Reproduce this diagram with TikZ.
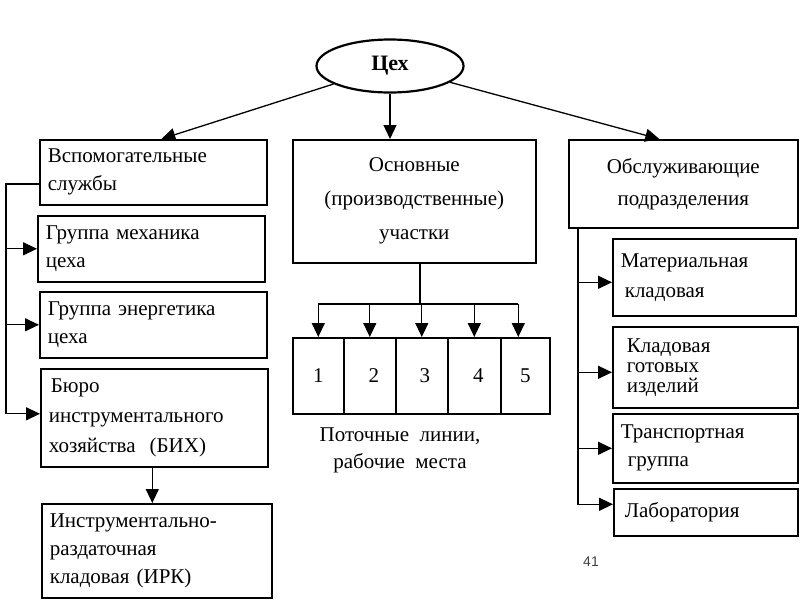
\documentclass[tikz,border=0pt]{standalone}
\usepackage{fontspec}
\setmainfont{Liberation Serif}
\newfontfamily\pagefont{Liberation Sans}
\usetikzlibrary{shapes.geometric,arrows.meta}
\tikzset{
  rbox/.style={draw,line width=1.6pt,anchor=north west,inner xsep=8pt,inner ysep=0pt,align=left,
    font=\fontsize{21}{28}\selectfont},
  cell/.style={draw,line width=1.6pt,anchor=north west,minimum height=76pt,inner sep=0pt,
    font=\fontsize{21}{28}\selectfont},
  arr/.style={line width=1.3pt,-{Triangle[length=14pt,width=13pt]}},
  link/.style={line width=1.3pt}
}
\begin{document}
\begin{tikzpicture}[x=1pt,y=-1pt]
\useasboundingbox[fill=white] (0,0) rectangle (800,600);
% top
\node[ellipse,draw,line width=2.2pt,minimum width=147pt,minimum height=53pt,font=\fontsize{22}{26}\selectfont\bfseries] (cex) at (390,66) {Цех};
\node[rbox,minimum height=65pt,text width=211pt] (vsp) at (39,139) {Вспомогательные\\службы};
\node[rbox,minimum height=123pt,text width=227pt,align=center,font=\fontsize{21}{34}\selectfont] (osn) at (292,139) {Основные\\(производственные)\\участки};
\node[rbox,minimum height=88pt,text width=213pt,align=center,font=\fontsize{21}{32}\selectfont] (obs) at (568,139) {Обслуживающие\\подразделения};
\draw[arr] (cex) -- ([xshift=8pt]vsp.north);
\draw[arr] (cex.south) -- (cex.south |- osn.north);
\draw[arr] (cex) -- ([xshift=-24pt]obs.north);
% left column
\node[rbox,minimum height=66pt,text width=211pt] (meh) at (37,215) {Группа механика\\цеха};
\node[rbox,minimum height=66pt,text width=211pt] (ene) at (39,291) {Группа энергетика\\цеха};
\node[rbox,minimum height=98pt,text width=211pt,font=\fontsize{21}{30}\selectfont] (bih) at (40,368) {\hspace{2pt}Бюро\\инструментального\\хозяйства\ \ (БИХ)};
\node[rbox,minimum height=94pt,text width=214pt] (irk) at (41,503) {Инструментально-\\раздаточная\\кладовая (ИРК)};
\coordinate (lt) at (6,184);
\draw[arr] (vsp.west |- lt) -- (lt) |- ([yshift=4pt]bih.west);
\draw[arr] (lt |- meh.west) -- (meh.west);
\draw[arr] (lt |- ene.west) -- (ene.west);
\draw[arr] ([xshift=-2pt]bih.south) -- ([xshift=-2pt]bih.south |- irk.north);
% middle
\node[cell,minimum width=51pt] (w1) at (292,337) {1};
\node[cell,minimum width=52pt] (w2) at (343,337) {\hspace{8pt}2};
\node[cell,minimum width=52pt] (w3) at (395,337) {\hspace{6pt}3};
\node[cell,minimum width=53pt] (w4) at (447,337) {\hspace{8pt}4};
\node[cell,minimum width=49pt] (w5) at (500,337) {5\hspace{8pt}};
\coordinate (drop) at (420,304);
\draw[link] (drop |- osn.south) -- (drop);
\draw[link] (w1.north |- drop) -- ([xshift=-7pt]w5.north |- drop);
\draw[arr] (w1.north |- drop) -- (w1.north);
\draw[arr] (w2.north |- drop) -- (w2.north);
\draw[arr] (w3.north |- drop) -- (w3.north);
\draw[arr] (w4.north |- drop) -- (w4.north);
\draw[arr] ([xshift=-7pt]w5.north |- drop) -- ([xshift=-7pt]w5.north);
\node[align=center,font=\fontsize{21}{27}\selectfont] (cap) at (400,450) {Поточные\ \ линии,\\рабочие\ \ места};
% right column
\node[rbox,minimum height=77pt,text width=167pt,font=\fontsize{21}{30}\selectfont] (mat) at (612,238) {Материальная\\\hspace{4pt}кладовая};
\node[rbox,minimum height=81pt,text width=169pt,font=\fontsize{21}{20}\selectfont] (kgi) at (612,326) {\hspace{6pt}Кладовая\\\hspace{6pt}готовых\\\hspace{6pt}изделий};
\node[rbox,minimum height=69pt,text width=169pt] (trg) at (612,413) {Транспортная\\\hspace{7pt}группа};
\node[rbox,minimum height=47pt,text width=168pt] (lab) at (613,488) {\hspace{3pt}Лаборатория};
\coordinate (rt) at (578,229);
\draw[arr] (rt) |- ([yshift=8pt]lab.west);
\draw[arr] (rt |- mat.west) ++(0,5) -- ([yshift=-5pt]mat.west);
\draw[arr] (rt |- kgi.west) ++(0,5) -- ([yshift=-5pt]kgi.west);
\draw[arr] (rt |- trg.west) -- (trg.west);
\node[font=\pagefont\fontsize{14}{16}\selectfont,text=black!75] (num) at (591,562) {41};
\end{tikzpicture}
\end{document}
